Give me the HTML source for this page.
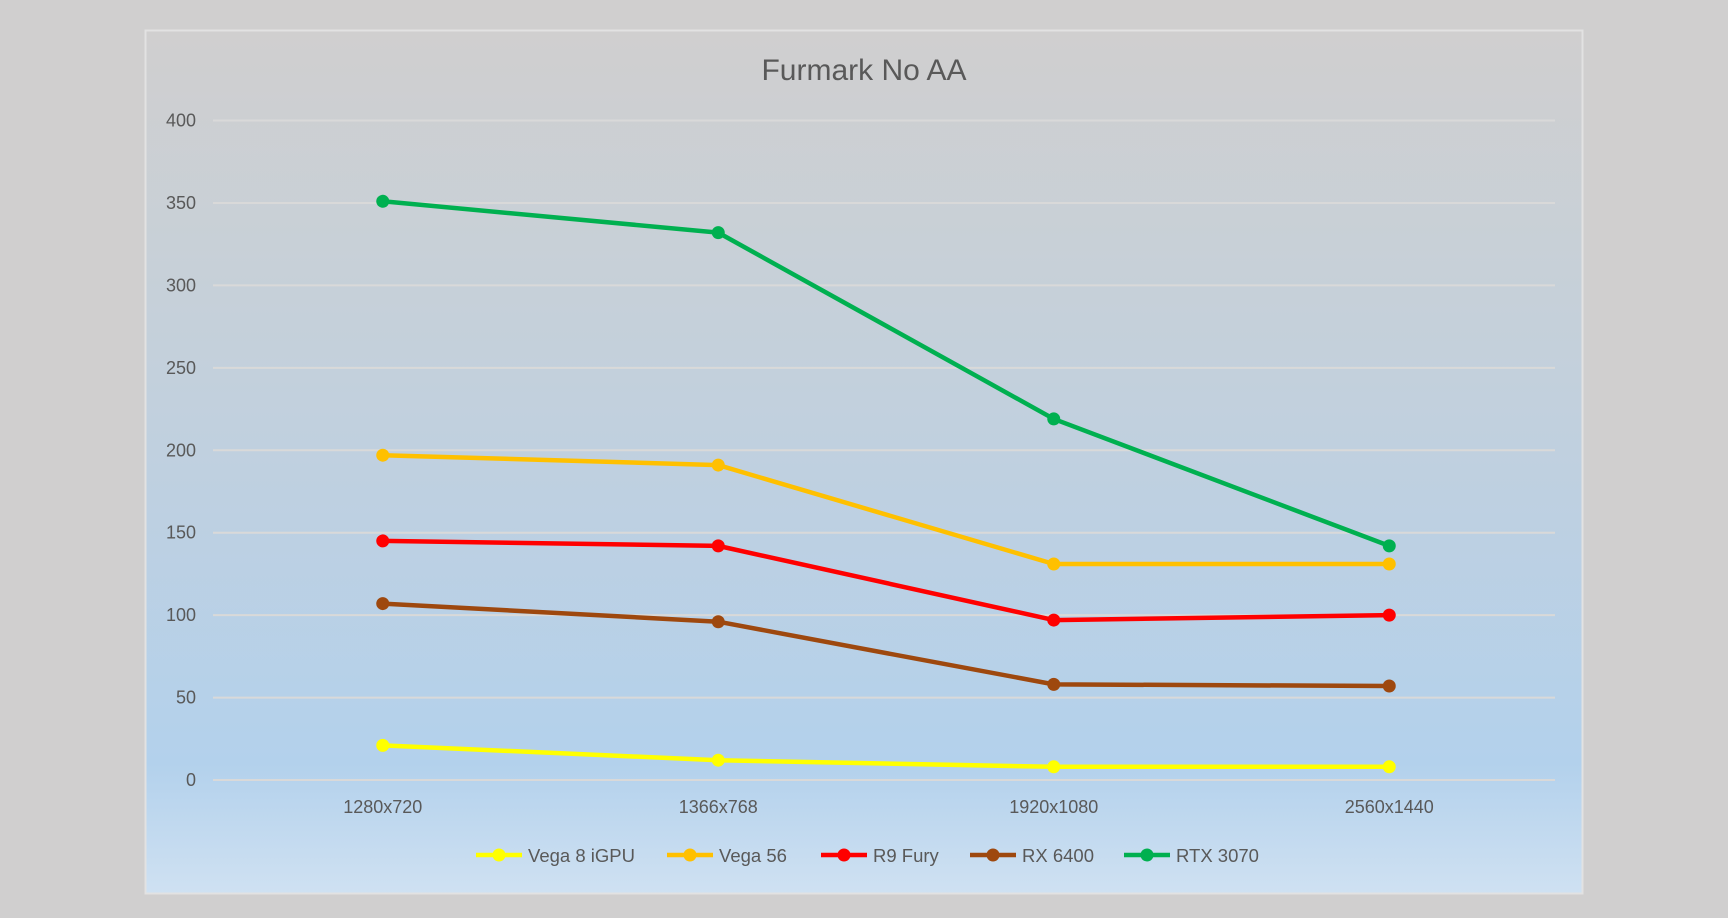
<!DOCTYPE html>
<html><head><meta charset="utf-8"><style>
html,body{margin:0;padding:0;background:#d0cfcf;width:1728px;height:918px;overflow:hidden;font-family:"Liberation Sans",sans-serif}
</style></head><body>
<svg id="chart" width="1728" height="918" xmlns="http://www.w3.org/2000/svg">
<defs><linearGradient id="bg" x1="0" y1="0" x2="0" y2="1">
<stop offset="0" stop-color="#d0cfcf"/><stop offset="0.4" stop-color="#c3d0dc"/><stop offset="0.85" stop-color="#b3d1ec"/><stop offset="1" stop-color="#cfe1f2"/></linearGradient></defs>
<rect x="145.5" y="30.5" width="1437" height="863" fill="url(#bg)" stroke="#e2e2e2" stroke-width="2"/>
<text x="864" y="80" text-anchor="middle" font-size="30" fill="#595959">Furmark No AA</text>
<g id="grid"></g><g id="series"></g><g id="legend"></g>
</svg>
<script>
const categories=["1280x720","1366x768","1920x1080","2560x1440"];
const yTicks=[0,50,100,150,200,250,300,350,400];
const seriesNames=["Vega 8 iGPU","Vega 56","R9 Fury","RX 6400","RTX 3070"];
const vega8=[21,12,8,8];
const vega56=[197,191,131,131];
const r9fury=[145,142,97,100];
const rx6400=[107,96,58,57];
const rtx3070=[351,332,219,142];
const seriesColors=["#ffff00","#ffc000","#ff0000","#9e480e","#00b050"];
const allSeries=[vega8,vega56,r9fury,rx6400,rtx3070];
const NS="http://www.w3.org/2000/svg";
const L=215,R=1557,Y0=780,Y400=120.5;
const x=i=>L+(R-L)/categories.length*(i+0.5);
const y=v=>Y0-(Y0-Y400)*v/400;
function mk(t,a,p){const e=document.createElementNS(NS,t);for(const k in a)e.setAttribute(k,a[k]);p.appendChild(e);return e;}
const g=document.getElementById('grid');
yTicks.forEach(v=>{
 const l=mk('line',{x1:213,x2:1555,y1:y(v),y2:y(v),stroke:'#d9d9d9','stroke-width':2},g);
 
 
 const t=mk('text',{x:196,y:y(v)+6,'text-anchor':'end','font-size':18,fill:'#595959'},g);
 t.textContent=v;
 
 
});
categories.forEach((c,i)=>{
 const t=mk('text',{x:x(i),y:813,'text-anchor':'middle','font-size':18,fill:'#595959'},g);
 t.textContent=c;
 
 
});
const s=document.getElementById('series');
allSeries.forEach((d,k)=>{
 const grp=mk('g',{},s);
 
 
 mk('polyline',{points:d.map((v,i)=>x(i)+','+y(v)).join(' '),fill:'none',stroke:seriesColors[k],'stroke-width':4.5,'stroke-linejoin':'round'},grp);
 d.forEach((v,i)=>{
  const c=mk('circle',{cx:x(i),cy:y(v),r:6.5,fill:seriesColors[k]},grp);
  
  
 });
});
const lg=document.getElementById('legend');
const lx=[476,667,821,970,1124];
seriesNames.forEach((n,k)=>{
 const e=mk('g',{},lg);
 
 
 mk('line',{x1:lx[k],x2:lx[k]+46,y1:855,y2:855,stroke:seriesColors[k],'stroke-width':4.5},e);
 mk('circle',{cx:lx[k]+23,cy:855,r:6.5,fill:seriesColors[k]},e);
 const t=mk('text',{x:lx[k]+52,y:862,'font-size':18.5,fill:'#595959'},e);
 t.textContent=n;
});
</script>
</body></html>
